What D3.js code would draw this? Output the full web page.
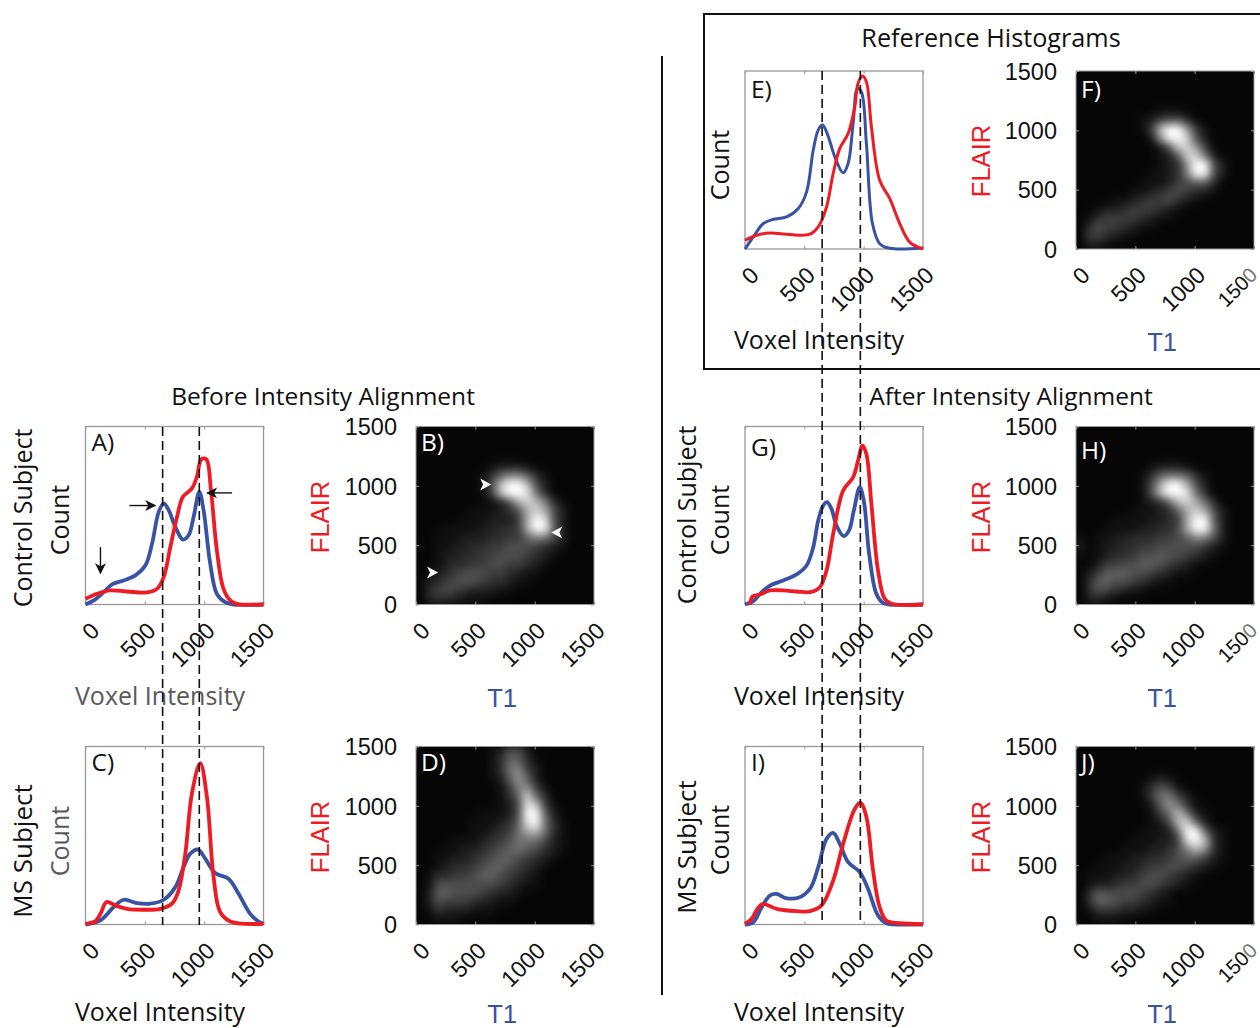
<!DOCTYPE html>
<html lang="en">
<head>
<meta charset="UTF-8">
<title>Intensity alignment histograms</title>
<script src="https://cdn.jsdelivr.net/npm/d3@7"></script>
<style>
    html, body { margin: 0; padding: 0; background: #fff; overflow: hidden; }
    text { fill: #111; }
    .lbl { font-family: "Open Sans", sans-serif; font-size: 24.5px; }
    .tick text { font-family: "Liberation Sans", sans-serif; font-size: 23.5px; fill: #111; }
    .arial { font-family: "Liberation Sans", sans-serif; font-size: 25.5px; }
</style>
</head>
<body>
<script>
    var intensityTicks = [0, 500, 1000, 1500];
    var xA = [0,70,154,224,322,421,505,561,617,659,701,757,821,869,911,959,995,1051,1107,1177,1248,1500];
    var blueA = [0,2.3,7,11.3,13.5,16.4,22,34.2,52,56.8,53,43.6,36.5,38.9,49.2,63.3,53,22.9,6,1.3,0,0];
    var xARed = [0,98,210,350,519,603,659,715,771,821,897,939,976,1018,1057,1107,1163,1220,1276,1500];
    var redA = [3.2,6,7.9,7.3,6.8,8.8,15.4,32.3,49.2,60.5,65.2,71.8,81.6,81.6,64.3,30.5,8.8,2.3,0.4,0];

    var xC = [0,126,238,322,435,547,659,757,827,883,948,1009,1093,1205,1290,1388,1458,1500];
    var blueC = [0,2.3,9.8,13.9,12,11.7,13.9,21,32.3,39.8,42.1,37,28.9,25.7,17.3,6,1.7,0.4];
    var xCRed = [0,84,126,177,252,350,491,631,729,785,841,897,967,1023,1079,1135,1220,1500];
    var redC = [0.4,1.9,6,12.6,10.7,8.8,8.3,8.8,11.7,19.2,39.8,73.7,90.6,71.8,26.8,7,1.7,0.4];

    var xE = [0,70,154,238,350,449,519,575,617,653,692,757,827,869,911,948,981,1023,1074,1135,1220,1500];
    var blueE = [0,6.8,14.3,16.7,18,22.7,32.1,55.5,66.8,69.6,65,51.8,42.8,48,70.5,90.2,88.3,59.3,14.3,3,0.4,0.6];
    var xERed = [0,98,210,378,547,617,687,743,799,869,925,953,990,1023,1065,1135,1220,1304,1388,1500];
    var redE = [4.9,7.7,9,8.1,8.3,12.4,23.6,42.4,56.5,64.9,79.9,93.1,97.2,94,68.7,38.6,28.3,14.3,3.9,0];

    var xG = [0,70,140,210,322,435,519,575,617,659,692,729,771,832,877,917,967,1001,1046,1107,1163,1220,1500];
    var blueG = [0,1.9,6.9,10.6,13.5,16.9,21.9,32.2,47.2,55.6,57.5,53.7,44.4,38.4,41.6,52.8,65.9,58.4,28.5,6,0.9,0,0];
    var xGRed = [42,64,126,210,322,435,547,631,687,743,827,911,953,990,1023,1065,1121,1177,1234,1500];
    var redG = [0,4.5,5.6,7.9,7.9,7.3,6.9,9.7,19.1,39.7,64,71.5,80.9,89.3,84.6,56.6,19.1,3.2,0.4,0];

    var xI = [0,70,140,210,266,336,449,547,617,687,743,799,869,967,1037,1121,1191,1276,1500];
    var blueI = [0,1.3,9.7,16.3,17.2,15,15,20,32.2,48.1,51.5,45.3,35,29.4,20,5.1,0.7,0,0];
    var xIRed = [0,56,104,149,266,435,547,645,743,827,925,973,1023,1079,1135,1191,1304,1500];
    var redI = [0.4,3.2,8.8,11.6,8.8,7.5,7.5,10.7,24.7,45.3,64.9,68.4,60.4,30.3,9.7,2.2,0.7,0.2];

    // joint histograms: 20 rows from FLAIR 1500 down to 0, 20 columns T1 0 to 1500, one hex digit per cell
    var gridB = [
        "00000000000000000000","00000000000000000000","00000000000000000000","00000000000000000000",
        "00000000122210000000","00000001368863100000","000000015bffb5200000","000000014bffd7300000",
        "00000000125acb831000","000000111235aca52000","000001112224afd52000","000111122334afe62000",
        "00111222334468752000","10112233445554321000","00122334455543210000","00123344554432100000",
        "01234555443211000000","02345554332110000000","03454322211000000000","02322111000000000000"];
    var gridD = [
        "00000000125520000000","00000000136631000000","00000000137842000000","00000000126962000000",
        "00000000014884100000","000000000136c6300000","000000000125db410000","000000011125ef620000",
        "000000111236df731000","000000112347ab731000","00001112345777521000","00011223456765321000",
        "00112234566543210000","00123345665432100000","01334456654321000000","01555555543211000000",
        "02665554322100000000","02544432211000000000","01322211100000000000","00111000000000000000"];
    var gridF = [
        "00000000000000000000","00000000000000000000","00000000000000000000","00000000000000000000",
        "00000000011100000000","00000001245530000000","000000014bff94100000","0000000029ffc5200000",
        "00000000026cc9400000","000000000126cc720000","0000000001239fe52000","0000000011238fe52000",
        "00000001112456630000","00000011234543210000","00001123445321000000","00122344432100000000",
        "01344443211000000000","03544321100000000000","04432110000000000000","02210000000000000000"];
    var gridH = [
        "00000000000000000000","00000000000000000000","00000000000000000000","00000000000000000000",
        "00000000122210000000","00000001367763100000","000000015afea5200000","000000015bffd7300000",
        "00000001236bca730000","000000111236aca52000","000011112234afe62000","000111122335afe72000",
        "10112233344568852000","20122334455555321000","10123345565543210000","00244556654321000000",
        "02466655432110000000","03665543211000000000","03543211000000000000","02210000000000000000"];
    var gridJ = [
        "00000000000000000000","00000000000000000000","00000000000000000000","00000000121000000000",
        "00000001354100000000","00000001477420000000","00000000269731000000","00000000147b72100000",
        "00000000125bc6200000","000000011127fe621000","000000111224dfb31000","0000011122358b931000",
        "00011122334566421000","00111223445543210000","01112234554321000000","01223445543210000000",
        "03655554321000000000","03665443211000000000","01333221100000000000","00111000000000000000"];

    var dashLeft = [650, 959];
    var dashRight = [650, 972];
    var arrowsA = [[370,55.6,588,55.6],[1235,62.7,1025,62.7],[126,32.2,126,17.5]];
    var whiteHeadsB = [[583,1011,0],[135,270,0],[1191,607,180]];

    var blue = "#3953a4", red = "#ed1c24", gray = "#58595b";
    var size = 178;

    var svg = d3.select("body").append("svg")
        .attr("width", 1260)
        .attr("height", 1028);

    var defs = svg.append("defs");
    var soft = defs.append("filter").attr("id", "soft")
        .attr("x", "-10%").attr("y", "-10%").attr("width", "120%").attr("height", "120%")
        .attr("color-interpolation-filters", "sRGB");
    soft.append("feGaussianBlur").attr("stdDeviation", 4.5);
    defs.append("marker").attr("id", "head")
        .attr("viewBox", "-10 -6 12 12").attr("refX", 0).attr("refY", 0)
        .attr("markerUnits", "userSpaceOnUse").attr("markerWidth", 12).attr("markerHeight", 12)
        .attr("orient", "auto")
        .append("path").attr("d", "M-10,-5.5 L1,0 L-10,5.5 L-7,0 Z").attr("fill", "#111");

    var line = d3.line().curve(d3.curveCatmullRom.alpha(0.5));

    function frameTicks(g, sc, axisFn, tx, ty, labels) {
        var a = g.append("g").attr("transform", "translate(" + tx + "," + ty + ")")
            .call(axisFn(sc).tickValues(intensityTicks).tickFormat(d3.format("d"))
                .tickSizeOuter(0).tickSizeInner(-3).tickPadding(0));
        a.select(".domain").remove();
        a.selectAll("line").attr("stroke", "#999").attr("stroke-width", 1);
        if (!labels) a.selectAll("text").remove();
        return a;
    }

    function slantLabels(axis, squeezeLast) {
        axis.selectAll("line").attr("y2", -3);
        axis.selectAll("text").attr("y", 0).attr("dy", ".35em").attr("text-anchor", "end")
            .style("font-size", "23px")
            .attr("transform", function(d) {
                var dx = d === 0 ? 9 : 6;
                if (squeezeLast && d === 1500) dx = -1;
                return "translate(" + dx + ",22) rotate(-45)";
            });
        if (squeezeLast) {
            // the far right 1500 sits against the page edge, its last digit is fainter in the source
            var last = axis.selectAll("text").filter(function(d) { return d === 1500; })
                .style("font-size", "20.5px").text("150");
            last.append("tspan").style("fill", "#777").text("0");
        }
    }

    function hist(px, py, name, xb, yb, xr, yr, w, letterY) {
        var sx = d3.scaleLinear().domain([0, 1500]).range([px, px + size]);
        var sy = d3.scaleLinear().domain([0, 100]).range([py + size, py]);
        var g = svg.append("g");
        g.append("rect").attr("x", px).attr("y", py).attr("width", size).attr("height", size)
            .attr("fill", "#fff").attr("stroke", "#999").attr("stroke-width", 1.3);
        frameTicks(g, sx, d3.axisTop, 0, py, false);
        slantLabels(frameTicks(g, sx, d3.axisBottom, 0, py + size, true), false);
        g.append("path").attr("fill", "none").attr("stroke", blue).attr("stroke-width", w)
            .attr("d", line(xb.map(function(d, i) { return [sx(d), sy(yb[i])]; })));
        g.append("path").attr("fill", "none").attr("stroke", red).attr("stroke-width", w)
            .attr("d", line(xr.map(function(d, i) { return [sx(d), sy(yr[i])]; })));
        g.append("text").attr("class", "lbl").attr("x", px + 6).attr("y", letterY).text(name);
    }

    function heat(px, py, name, rows, letterY) {
        var sx = d3.scaleLinear().domain([0, 1500]).range([px, px + size]);
        var sy = d3.scaleLinear().domain([0, 1500]).range([py + size, py]);
        var band = d3.scaleBand().domain(d3.range(20));
        var bx = band.copy().range([px, px + size]);
        var by = band.copy().range([py, py + size]);
        // bright cores stay small, the faint tail stays dim
        var grey = d3.scalePow().exponent(1.2).domain([0, 15]).range([6, 272]);
        var g = svg.append("g");
        var clipId = "clip" + name.charAt(0);
        defs.append("clipPath").attr("id", clipId).append("rect")
            .attr("x", px).attr("y", py).attr("width", size).attr("height", size);
        g.append("rect").attr("x", px).attr("y", py).attr("width", size).attr("height", size)
            .attr("fill", "#060808");
        var cells = [];
        rows.forEach(function(r, j) {
            for (var i = 0; i < 20; i++) cells.push({ i: i, j: j, v: parseInt(r.charAt(i) || "0", 16) });
        });
        g.append("g").attr("clip-path", "url(#" + clipId + ")")
            .append("g").attr("filter", "url(#soft)")
            .selectAll("rect").data(cells).enter().append("rect")
            .attr("x", function(d) { return bx(d.i); })
            .attr("y", function(d) { return by(d.j); })
            .attr("width", bx.bandwidth() + 0.5)
            .attr("height", by.bandwidth() + 0.5)
            .attr("fill", function(d) {
                var c = Math.min(255, Math.round(grey(d.v)));
                return d3.rgb(c, c, c);
            });
        g.append("rect").attr("x", px).attr("y", py).attr("width", size).attr("height", size)
            .attr("fill", "none").attr("stroke", "#999").attr("stroke-width", 1);
        frameTicks(g, sx, d3.axisTop, 0, py, false);
        slantLabels(frameTicks(g, sx, d3.axisBottom, 0, py + size, true), px > 1000);
        var left = frameTicks(g, sy, d3.axisLeft, px, 0, true);
        left.selectAll("line").attr("x2", 3);
        left.selectAll("text").attr("x", -19).attr("dy", ".35em");
        frameTicks(g, sy, d3.axisRight, px + size, 0, false).selectAll("line").attr("x2", -3);
        g.append("text").attr("class", "lbl").attr("x", px + 5).attr("y", letterY)
            .style("fill", "#fff").text(name);
    }

    hist(85.5, 426.5, "A)", xA, blueA, xARed, redA, 3.8, 451);
    hist(85.5, 746.5, "C)", xC, blueC, xCRed, redC, 3.8, 771);
    hist(745, 71, "E)", xE, blueE, xERed, redE, 3, 98);
    hist(745, 426.5, "G)", xG, blueG, xGRed, redG, 3.8, 456);
    hist(745, 746.5, "I)", xI, blueI, xIRed, redI, 3.8, 771);

    heat(416, 426.5, "B)", gridB, 451);
    heat(416, 746.5, "D)", gridD, 771);
    heat(1076, 71, "F)", gridF, 98);
    heat(1076, 426.5, "H)", gridH, 459);
    heat(1076, 746.5, "J)", gridJ, 771);

    function vText(cx, cy, s, cls, col, rot, fs) {
        var t = svg.append("text").attr("class", cls)
            .attr("text-anchor", "middle").attr("dy", ".35em")
            .attr("transform", "translate(" + cx + "," + cy + ") rotate(" + (rot || 0) + ")")
            .text(s);
        if (col) t.style("fill", col);
        if (fs) t.style("font-size", fs + "px");
    }

    [[160, 696, gray], [160, 1012], [819, 340], [819, 696], [819, 1012]].forEach(function(d) {
        vText(d[0], d[1], "Voxel Intensity", "lbl", d[2], 0, 25);
    });
    [[23, 518, "Control Subject", 25], [687, 515, "Control Subject", 25], [23, 851, "MS Subject", 26], [687, 847, "MS Subject", 26],
     [60, 520, "Count", 25], [60, 841, "Count", 25, gray], [720, 165, "Count", 25], [720, 520, "Count", 25], [720, 840, "Count", 25]].forEach(function(d) {
        vText(d[0], d[1], d[2], "lbl", d[4], -90, d[3]);
    });
    [[320, 517], [320, 837], [981, 161], [981, 517], [981, 837]].forEach(function(d) {
        vText(d[0], d[1], "FLAIR", "arial", red, -90);
    });
    [[502, 698], [502, 1014], [1162, 342], [1162, 698], [1162, 1014]].forEach(function(d) {
        vText(d[0], d[1], "T1", "arial", blue);
    });
    vText(323, 396, "Before Intensity Alignment", "lbl");
    vText(1011, 396, "After Intensity Alignment", "lbl");
    vText(991, 38, "Reference Histograms", "lbl", null, 0, 25.2);

    // reference box and the centre rule
    svg.append("rect").attr("x", 704).attr("y", 14).attr("width", 570).attr("height", 355)
        .attr("fill", "none").attr("stroke", "#111").attr("stroke-width", 2);
    svg.append("line").attr("x1", 662).attr("x2", 662).attr("y1", 56).attr("y2", 995)
        .attr("stroke", "#111").attr("stroke-width", 2);

    // dashed guide lines through the panels
    var sxLeft = d3.scaleLinear().domain([0, 1500]).range([85.5, 85.5 + size]);
    var sxRight = d3.scaleLinear().domain([0, 1500]).range([745, 745 + size]);
    dashLeft.forEach(function(v) {
        svg.append("line").attr("x1", sxLeft(v)).attr("x2", sxLeft(v)).attr("y1", 427).attr("y2", 925)
            .attr("stroke", "#111").attr("stroke-width", 1.6).attr("stroke-dasharray", "9 5");
    });
    dashRight.forEach(function(v) {
        svg.append("line").attr("x1", sxRight(v)).attr("x2", sxRight(v)).attr("y1", 71).attr("y2", 925)
            .attr("stroke", "#111").attr("stroke-width", 1.6).attr("stroke-dasharray", "9 5");
    });

    // arrows in panel A
    var ayA = d3.scaleLinear().domain([0, 100]).range([426.5 + size, 426.5]);
    arrowsA.forEach(function(a) {
        svg.append("line").attr("x1", sxLeft(a[0])).attr("y1", ayA(a[1]))
            .attr("x2", sxLeft(a[2])).attr("y2", ayA(a[3]))
            .attr("stroke", "#111").attr("stroke-width", 1.4)
            .attr("marker-end", "url(#head)");
    });

    // white arrow heads in panel B
    var bx2 = d3.scaleLinear().domain([0, 1500]).range([416, 416 + size]);
    var by2 = d3.scaleLinear().domain([0, 1500]).range([426.5 + size, 426.5]);
    whiteHeadsB.forEach(function(a) {
        svg.append("path").attr("d", "M-5,-6 L6,0 L-5,6 L-2,0 Z").attr("fill", "#fff")
            .attr("transform", "translate(" + bx2(a[0]) + "," + by2(a[1]) + ") rotate(" + a[2] + ")");
    });
</script>
</body>
</html>
